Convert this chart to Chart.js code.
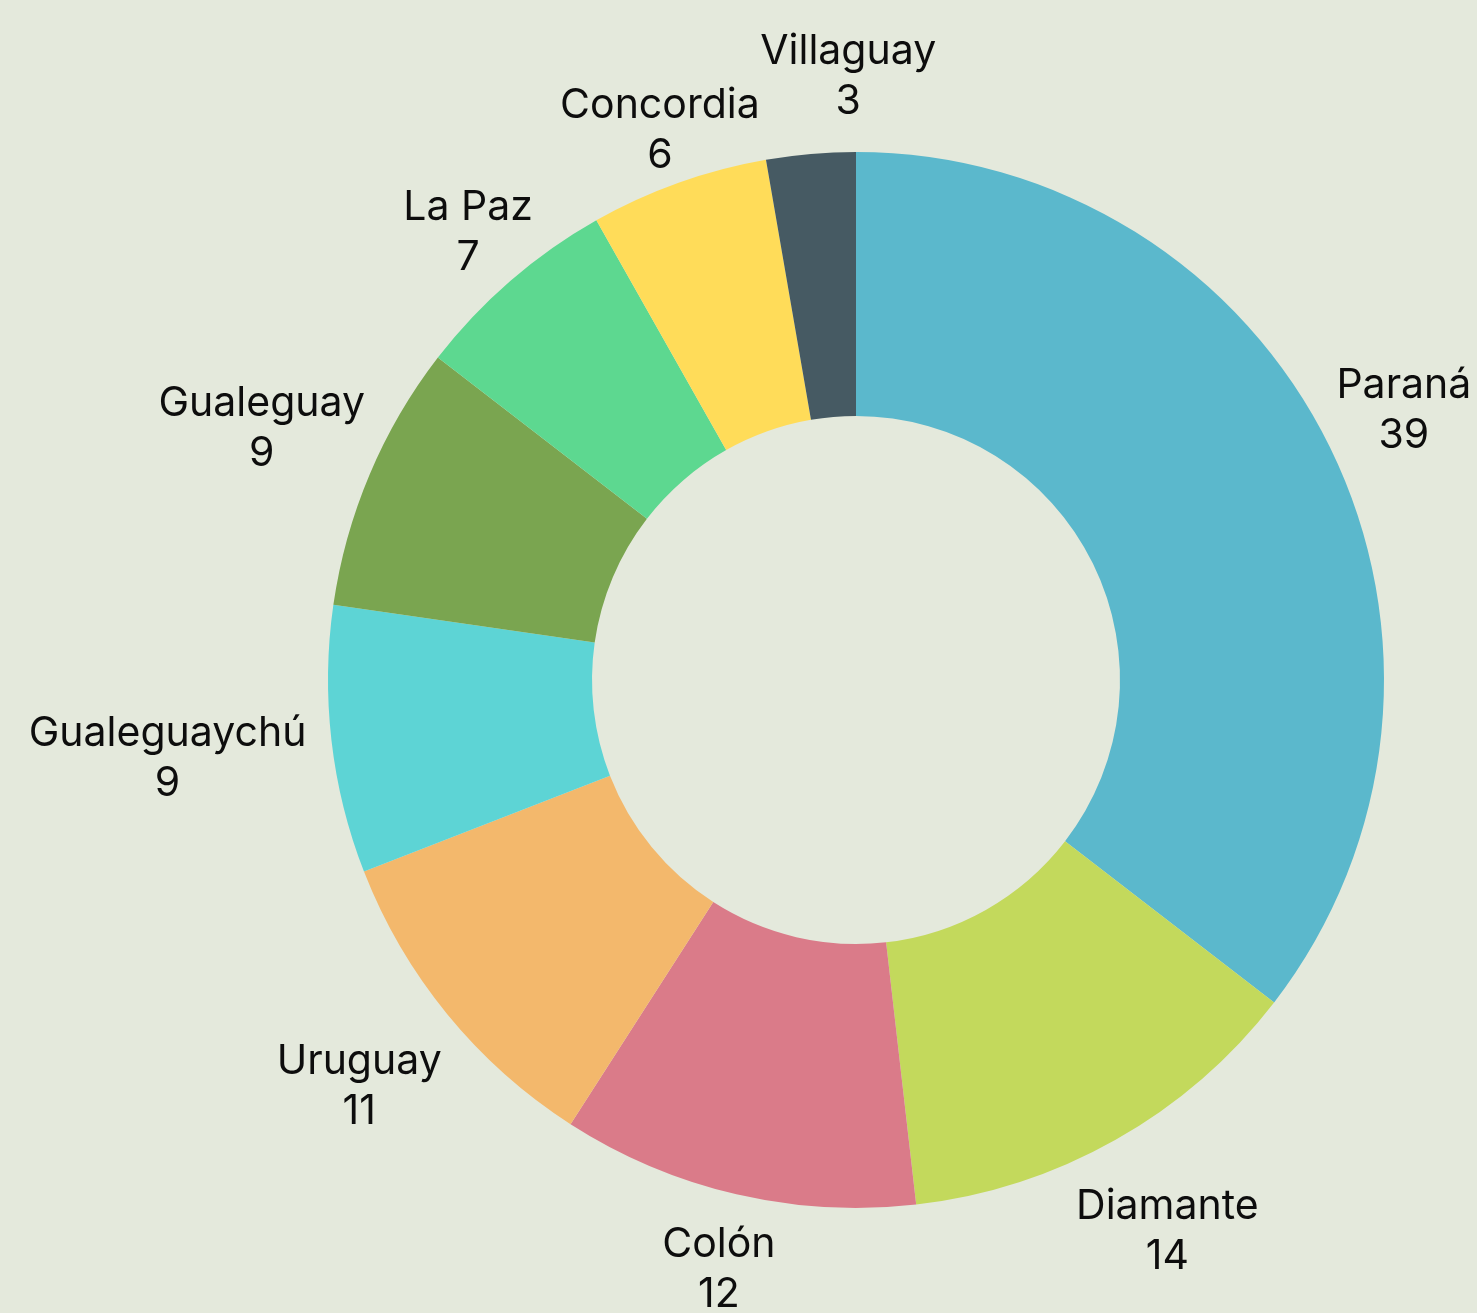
<!DOCTYPE html>
<html>
<head>
<meta charset="utf-8">
<script src="https://cdn.jsdelivr.net/npm/chart.js@4"></script>
<style>
    html, body { margin: 0; padding: 0; background: #e4e9dc; }
    canvas { display: block; }
</style>
</head>
<body>
<canvas id="departmentsChart" width="1477" height="1313"></canvas>
<script>
const departments = ['Paraná', 'Diamante', 'Colón', 'Uruguay', 'Gualeguaychú', 'Gualeguay', 'La Paz', 'Concordia', 'Villaguay'];
const counts = [39, 14, 12, 11, 9, 9, 7, 6, 3];
const sliceColors = ['#5bb8cc', '#c3d95c', '#da7b89', '#f3b86c', '#5dd4d5', '#7aa550', '#5dd890', '#ffdc59', '#465a63'];

const labelFont = '41px Inter';
const lineStep = 50;

// labels outside the ring: name on top, value below, pushed out radially
const outsideLabels = {
    id: 'outsideLabels',
    afterDatasetsDraw(chart) {
        const ctx = chart.ctx;
        const meta = chart.getDatasetMeta(0);
        const placed = [];
        ctx.save();
        ctx.font = labelFont;
        ctx.fillStyle = '#0d0d0d';
        ctx.textAlign = 'center';
        ctx.textBaseline = 'middle';
        meta.data.forEach((arc, i) => {
            const {x, y, startAngle, endAngle, outerRadius} = arc.getProps(['x', 'y', 'startAngle', 'endAngle', 'outerRadius'], true);
            const mid = (startAngle + endAngle) / 2;
            const vx = Math.cos(mid);
            const vy = Math.sin(mid);
            const lines = [departments[i], String(counts[i])];
            const w = Math.max(...lines.map(t => ctx.measureText(t).width));
            const h = lineStep * 2 - 10;
            const d = outerRadius + 22 + (w / 2) * Math.abs(vx) + Math.max(0, vy) * 44;
            let cx = x + vx * d;
            let cy = y + vy * d;

            // nudge clockwise and outward while it overlaps a previous label
            let mx = -vy + vx, my = vx + vy;
            const len = Math.hypot(mx, my);
            mx /= len; my /= len;
            const hits = () => placed.some(b =>
                Math.abs(b.x - cx) < (b.w + w) / 2 && Math.abs(b.y - cy) < (b.h + h) / 2);
            let guard = 0;
            while (hits() && guard++ < 400) {
                cx += mx;
                cy += my;
            }
            placed.push({x: cx, y: cy, w, h});

            ctx.fillText(lines[0], cx, cy - lineStep / 2);
            ctx.fillText(lines[1], cx, cy + lineStep / 2);
        });
        ctx.restore();
    }
};

const ctx = document.getElementById('departmentsChart').getContext('2d');
const chart = new Chart(ctx, {
    type: 'doughnut',
    data: {
        labels: departments,
        datasets: [{
            data: counts,
            backgroundColor: sliceColors,
            borderWidth: 0
        }]
    },
    options: {
        responsive: false,
        devicePixelRatio: 1,
        animation: false,
        cutout: '50%',
        layout: {
            padding: {top: 152, bottom: 105, left: 328, right: 93}
        },
        plugins: {
            legend: {display: false},
            tooltip: {enabled: false}
        }
    },
    plugins: [outsideLabels]
});
</script>
</body>
</html>
